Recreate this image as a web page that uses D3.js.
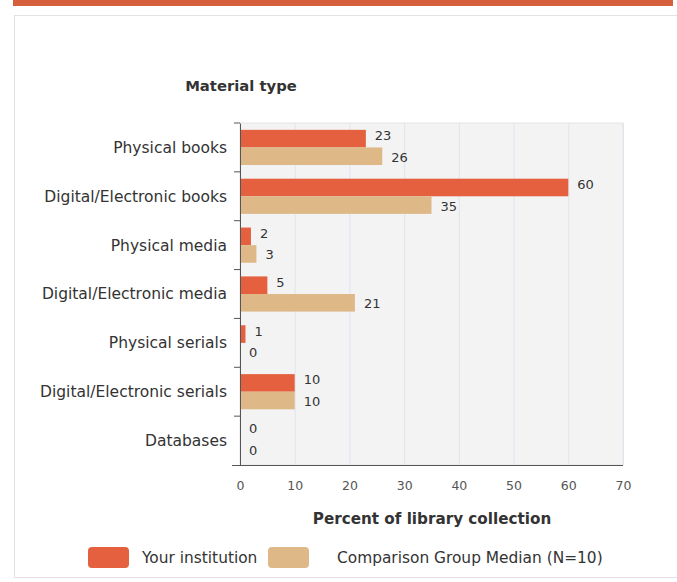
<!DOCTYPE html>
<html>
<head>
<meta charset="utf-8">
<script src="https://cdn.jsdelivr.net/npm/d3@7"></script>
<style>
  body { margin: 0; background: #fff; }
  svg { display: block; font-family: "DejaVu Sans", Verdana, sans-serif; }
</style>
</head>
<body>
<div id="chart"></div>
<script>
// data
var categories = ["Physical books", "Digital/Electronic books", "Physical media",
  "Digital/Electronic media", "Physical serials", "Digital/Electronic serials", "Databases"];
var yourInstitution = [23, 60, 2, 5, 1, 10, 0];
var groupMedian = [26, 35, 3, 21, 0, 10, 0];
var seriesNames = ["Your institution", "Comparison Group Median (N=10)"];
var xTicks = [0, 10, 20, 30, 40, 50, 60, 70];

var colors = ["#e4603e", "#deb887"];

var W = 677, H = 582;
var plot = { left: 240, right: 623, top: 123, bottom: 465 };

var svg = d3.select("#chart").append("svg")
  .attr("width", W)
  .attr("height", H);

// page frame
svg.append("rect")
  .attr("x", 13).attr("y", 0)
  .attr("width", 660).attr("height", 6)
  .attr("fill", "#d6603e");

svg.append("rect")
  .attr("x", 14.5).attr("y", 15.5)
  .attr("width", 670).attr("height", 562)
  .attr("fill", "#fff")
  .attr("stroke", "#e2e2e2");

// scales
var x = d3.scaleLinear().domain([0, 70]).range([plot.left, plot.right]);
var y = d3.scaleBand().domain(categories).range([plot.top, plot.bottom]).paddingInner(0.28).paddingOuter(0.14);
var inner = d3.scaleBand().domain([0, 1]).range([0, y.bandwidth()]);

// plot background
svg.append("rect")
  .attr("x", plot.left).attr("y", plot.top)
  .attr("width", plot.right - plot.left)
  .attr("height", plot.bottom - plot.top)
  .attr("fill", "#f3f3f3")
  .attr("stroke", "#e6e6e6");

// grid
svg.append("g")
  .selectAll("line")
  .data(xTicks.slice(1))
  .enter().append("line")
  .attr("x1", d => x(d) + 0.5).attr("x2", d => x(d) + 0.5)
  .attr("y1", plot.top).attr("y2", plot.bottom)
  .attr("stroke", "#dfe4ee");

// bars
var rows = categories.map((c, i) => ({ cat: c, vals: [yourInstitution[i], groupMedian[i]] }));

var g = svg.append("g")
  .selectAll("g")
  .data(rows)
  .enter().append("g")
  .attr("transform", d => "translate(0," + y(d.cat) + ")");

g.selectAll("rect")
  .data(d => d.vals)
  .enter().append("rect")
  .attr("x", x(0))
  .attr("y", (d, i) => inner(i))
  .attr("width", d => x(d) - x(0))
  .attr("height", inner.bandwidth())
  .attr("fill", (d, i) => colors[i]);

g.selectAll("text")
  .data(d => d.vals)
  .enter().append("text")
  .attr("x", d => x(d) + 9)
  .attr("y", (d, i) => inner(i) + inner.bandwidth() / 2 + (i === 0 ? -3 : 1))
  .attr("dy", "0.35em")
  .attr("font-size", 13)
  .attr("fill", "#333")
  .text(d => d);

// axes
var yAxis = d3.axisLeft(y).tickSize(6).tickSizeOuter(0).tickFormat("");
var yG = svg.append("g")
  .attr("transform", "translate(" + plot.left + ",0)")
  .call(yAxis);
yG.select(".domain").attr("stroke", "#555");
yG.selectAll(".tick line").attr("stroke", "#555")
  .attr("transform", "translate(0," + (-y.step() / 2) + ")");

// category labels
svg.append("g")
  .selectAll("text")
  .data(categories)
  .enter().append("text")
  .attr("x", 227)
  .attr("y", d => y(d) + y.bandwidth() / 2)
  .attr("dy", "0.35em")
  .attr("text-anchor", "end")
  .attr("font-size", 15.5)
  .attr("fill", "#333")
  .text(d => d);

var xAxis = d3.axisBottom(x).tickValues(xTicks).tickSize(0).tickPadding(16);
var xG = svg.append("g")
  .attr("transform", "translate(0," + plot.bottom + ")")
  .call(xAxis);
xG.select(".domain").remove();
xG.append("line")
  .attr("x1", 232).attr("x2", plot.right)
  .attr("y1", 0.5).attr("y2", 0.5)
  .attr("stroke", "#555");
xG.selectAll(".tick text")
  .attr("font-size", 12.5)
  .attr("fill", "#555")
  .attr("font-family", "DejaVu Sans, Verdana, sans-serif");

// titles
svg.append("text")
  .attr("x", 241).attr("y", 91)
  .attr("text-anchor", "middle")
  .attr("font-size", 14.8)
  .attr("font-weight", "bold")
  .attr("fill", "#333")
  .text("Material type");

svg.append("text")
  .attr("x", 432).attr("y", 524)
  .attr("text-anchor", "middle")
  .attr("font-size", 15.2)
  .attr("font-weight", "bold")
  .attr("fill", "#333")
  .text("Percent of library collection");

// legend
var legendX = [88, 268];
var leg = svg.append("g")
  .selectAll("g")
  .data(seriesNames)
  .enter().append("g")
  .attr("transform", (d, i) => "translate(" + legendX[i] + ",547)");

leg.append("rect")
  .attr("width", 41).attr("height", 21)
  .attr("rx", 4)
  .attr("fill", (d, i) => colors[i]);

leg.append("text")
  .attr("x", (d, i) => i === 0 ? 54 : 69)
  .attr("y", 11)
  .attr("dy", "0.35em")
  .attr("font-size", 15.4)
  .attr("fill", "#333")
  .text(d => d);
</script>
</body>
</html>
